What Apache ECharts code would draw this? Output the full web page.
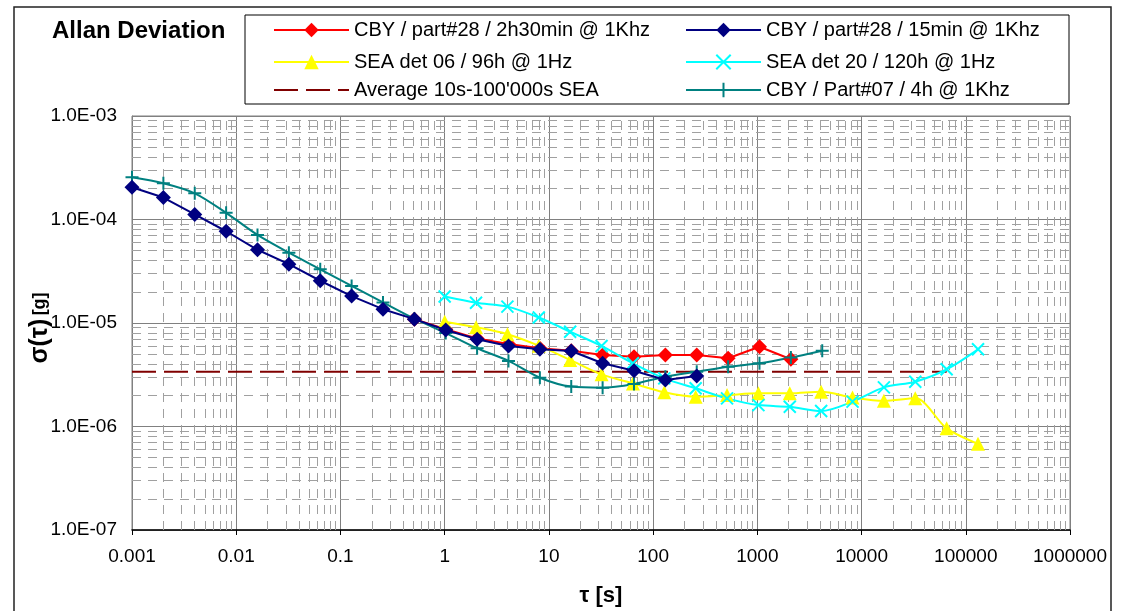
<!DOCTYPE html>
<html>
<head>
<meta charset="UTF-8">
<title>Allan Deviation</title>
<style>
    html,body{margin:0;padding:0;width:100%;height:100%;background:#fff;}
    #wrap{width:1121px;height:611px;}
</style>
</head>
<body>
<div id="wrap"></div>
<script src="https://cdn.jsdelivr.net/npm/echarts@6/dist/echarts.min.js"></script>
<script>
    // tau values [s]
    let tauCBY = [0.001, 0.002, 0.004, 0.008, 0.016, 0.032, 0.064, 0.128, 0.256, 0.512, 1.024, 2.048,
        4.096, 8.192, 16.384, 32.768, 65.536, 131.072, 262.144, 524.288, 1048.576, 2097.152, 4194.304];
    let tauSEA = [1, 2, 4, 8, 16, 32, 64, 128, 256, 512, 1024, 2048, 4096, 8192, 16384, 32768, 65536, 131072];

    // sigma values [g]
    let cby28long = [1.09e-5, 8.7e-6, 7.1e-6, 6.27e-6, 5.69e-6, 5.40e-6, 4.91e-6, 4.73e-6, 4.91e-6, 4.91e-6,
        4.56e-6, 5.9e-6, 4.46e-6];                      // starts at tau 0.512
    let cby28short = [2.05e-4, 1.63e-4, 1.12e-4, 7.7e-5, 5.1e-5, 3.7e-5, 2.56e-5, 1.82e-5, 1.36e-5, 1.09e-5,
        8.55e-6, 6.97e-6, 6.0e-6, 5.57e-6, 5.36e-6, 4.08e-6, 3.46e-6, 2.81e-6, 3.08e-6];
    let sea06 = [1.03e-5, 9.1e-6, 7.8e-6, 6.04e-6, 4.40e-6, 3.19e-6, 2.61e-6, 2.14e-6, 1.94e-6, 2.01e-6,
        2.09e-6, 2.09e-6, 2.17e-6, 1.91e-6, 1.77e-6, 1.87e-6, 9.6e-7, 6.8e-7];
    let sea20 = [1.80e-5, 1.57e-5, 1.44e-5, 1.13e-5, 8.24e-6, 6.0e-6, 4.08e-6, 2.92e-6, 2.34e-6, 1.87e-6,
        1.61e-6, 1.55e-6, 1.41e-6, 1.74e-6, 2.39e-6, 2.71e-6, 3.57e-6, 5.57e-6];
    let cby07 = [2.56e-4, 2.24e-4, 1.79e-4, 1.16e-4, 7.1e-5, 4.78e-5, 3.30e-5, 2.28e-5, 1.58e-5, 1.10e-5,
        8.0e-6, 5.7e-6, 4.30e-6, 2.96e-6, 2.43e-6, 2.37e-6, 2.58e-6, 3.03e-6, 3.38e-6, 3.78e-6,
        4.08e-6, 4.64e-6, 5.40e-6];
    let avgTau = [0.001, 65536];
    let avgSea = [3.38e-6, 3.38e-6];

    let names = ['CBY / part#28 / 2h30min @ 1Khz', 'CBY / part#28 / 15min @ 1Khz',
        'SEA det 06 / 96h @ 1Hz', 'SEA det 20 / 120h @ 1Hz',
        'Average 10s-100\'000s SEA', 'CBY / Part#07 / 4h @ 1Khz'];

    let xTickLabels = ['0.001', '0.01', '0.1', '1', '10', '100', '1000', '10000', '100000', '1000000'];
    let yTickLabels = ['1.0E-07', '1.0E-06', '1.0E-05', '1.0E-04', '1.0E-03'];

    let xMin = 0.001, xMax = 1000000, yMin = 1e-7, yMax = 1e-3;

    function pairs(xs, ys, offset){
        return ys.map((v, i) => [xs[i + (offset || 0)], v]);
    }

    // minor gridlines at 2..9 of every decade
    let minorLines = [];
    for (let e = -3; e < 6; e++){
        for (let k = 2; k < 10; k++){
            let v = k * Math.pow(10, e);
            minorLines.push([{coord: [v, yMin]}, {coord: [v, yMax]}]);
        }
    }
    for (let e = -7; e < -3; e++){
        for (let k = 2; k < 10; k++){
            let v = k * Math.pow(10, e);
            minorLines.push([{coord: [xMin, v]}, {coord: [xMax, v]}]);
        }
    }

    let font = 'Arial, "Liberation Sans", sans-serif';
    let crossPath = 'path://M0,0L10,10M10,0L0,10';
    let plusPath = 'path://M5,0L5,10M0,5L10,5';

    let legendPos = [[268, 15], [680, 15], [268, 47], [680, 47], [268, 75], [680, 75]];
    let legends = names.map((n, i) => ({
        data: [n],
        left: legendPos[i][0],
        top: legendPos[i][1],
        itemWidth: 75,
        itemHeight: 18,
        selectedMode: false,
        itemStyle: i === 4 ? {opacity: 0} : {},
        textStyle: {fontSize: 20, color: '#000', fontFamily: font}
    }));

    let chart = echarts.init(document.getElementById('wrap'));

    let option = {
        animation: false,
        backgroundColor: '#fff',
        title: {
            text: 'Allan Deviation',
            left: 47,
            top: 14,
            textStyle: {fontSize: 24, fontWeight: 'bold', color: '#000', fontFamily: font}
        },
        legend: legends,
        graphic: [
            {type: 'rect', shape: {x: 14, y: 7, width: 1097, height: 640},
                style: {fill: null, stroke: '#222', lineWidth: 1.5}, silent: true},
            {type: 'rect', shape: {x: 245, y: 15, width: 824, height: 89},
                style: {fill: null, stroke: '#000', lineWidth: 1}, silent: true},
            {type: 'text', x: 601, y: 596,
                style: {text: 'τ [s]', fontSize: 22, fontWeight: 'bold', fill: '#000', fontFamily: font,
                    align: 'center', verticalAlign: 'middle'}},
            {type: 'text', x: 40, y: 328, rotation: Math.PI / 2,
                style: {text: '{a|σ(τ)} {b|[g]}', fontFamily: font, fill: '#000',
                    align: 'center', verticalAlign: 'middle',
                    rich: {a: {fontSize: 25, fontWeight: 'bold', fontFamily: font},
                           b: {fontSize: 18, fontWeight: 'bold', fontFamily: font}}}}
        ],
        grid: {
            left: 132, right: 51, top: 116, bottom: 81,
            show: true, borderColor: '#808080', borderWidth: 1
        },
        xAxis: {
            type: 'log',
            logBase: 10,
            min: xMin,
            max: xMax,
            axisLine: {show: true, lineStyle: {color: '#000', width: 1.5}},
            axisTick: {show: true, length: 5, lineStyle: {color: '#000'}},
            axisLabel: {
                fontSize: 19, color: '#000', fontFamily: font, margin: 17,
                formatter: (v, i) => xTickLabels[i]
            },
            splitLine: {show: true, lineStyle: {color: '#808080', width: 1}}
        },
        yAxis: {
            type: 'log',
            logBase: 10,
            min: yMin,
            max: yMax,
            axisLine: {show: true, lineStyle: {color: '#808080'}},
            axisTick: {show: false},
            axisLabel: {
                fontSize: 19, color: '#000', fontFamily: font, margin: 15,
                formatter: (v, i) => yTickLabels[i]
            },
            splitLine: {show: true, lineStyle: {color: '#808080', width: 1}}
        },
        series: [
            {
                name: names[0], type: 'line', z: 3,
                data: pairs(tauCBY, cby28long, 9),
                symbol: 'diamond', symbolSize: 15,
                lineStyle: {color: '#ff0000', width: 2},
                itemStyle: {color: '#ff0000'}
            },
            {
                name: names[1], type: 'line', z: 4,
                data: pairs(tauCBY, cby28short),
                symbol: 'diamond', symbolSize: 15,
                lineStyle: {color: '#000080', width: 2},
                itemStyle: {color: '#000080'}
            },
            {
                name: names[2], type: 'line', z: 3, smooth: 0.3,
                data: pairs(tauSEA, sea06),
                symbol: 'triangle', symbolSize: 14,
                lineStyle: {color: '#ffff00', width: 2},
                itemStyle: {color: '#ffff00'}
            },
            {
                name: names[3], type: 'line', z: 3, smooth: 0.3,
                data: pairs(tauSEA, sea20),
                symbol: crossPath, symbolSize: 12,
                lineStyle: {color: '#00ffff', width: 2},
                itemStyle: {color: '#00ffff', borderColor: '#00ffff', borderWidth: 2}
            },
            {
                name: names[4], type: 'line', z: 2,
                data: pairs(avgTau, avgSea),
                symbol: 'none',
                lineStyle: {color: '#800000', width: 2, type: [24, 8]},
                itemStyle: {color: '#800000'},
                markLine: {
                    silent: true,
                    z: 1,
                    symbol: ['none', 'none'],
                    label: {show: false},
                    lineStyle: {color: '#a0a0a0', width: 1, type: [9, 7]},
                    emphasis: {disabled: true},
                    data: minorLines
                }
            },
            {
                name: names[5], type: 'line', z: 3, smooth: 0.3,
                data: pairs(tauCBY, cby07),
                symbol: plusPath, symbolSize: 13,
                lineStyle: {color: '#008080', width: 2},
                itemStyle: {color: '#008080', borderColor: '#008080', borderWidth: 2}
            }
        ]
    };

    chart.setOption(option);
</script>
</body>
</html>
